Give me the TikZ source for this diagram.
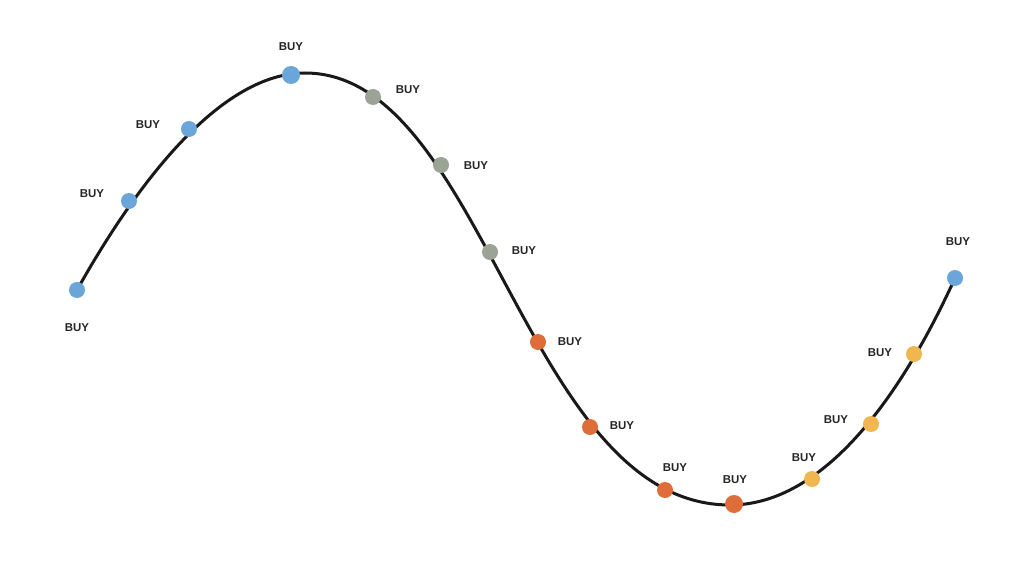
\documentclass[tikz,border=0pt]{standalone}
\usepackage{fontspec}
\setmainfont{Liberation Sans}
\begin{document}
\begin{tikzpicture}[x=1bp,y=-1bp,
  dot/.style={circle,inner sep=0pt,minimum size=16bp},
  bigdot/.style={dot,minimum size=18bp},
  lbl/.style={font=\fontsize{11.5}{13}\selectfont\bfseries,text=black!85,inner sep=0pt},
  curve/.style={line width=3bp,black!90,line cap=round}]
\definecolor{cblue}{HTML}{6AA6DA}
\definecolor{cgray}{HTML}{9BA397}
\definecolor{corange}{HTML}{DF6D3A}
\definecolor{cyellow}{HTML}{F0B64F}
\useasboundingbox (0,0) rectangle (1024,572);
\fill[white] (0,0) rectangle (1024,572);
\coordinate (s) at (77,290);
\coordinate (top) at (305,73);
\coordinate (bot) at (730,505);
\coordinate (e) at (955,278);
\draw[curve] (s) .. controls (150,160) and (230,73) .. (top)
  .. controls (485,73) and (525,505) .. (bot)
  .. controls (840,505) and (920,355) .. (e);
\node[dot,fill=cblue] (d1) at (77,290) {};
\node[dot,fill=cblue] (d2) at (129,201) {};
\node[dot,fill=cblue] (d3) at (189,129) {};
\node[bigdot,fill=cblue] (d4) at (291,75) {};
\node[dot,fill=cgray] (d5) at (373,97) {};
\node[dot,fill=cgray] (d6) at (441,165) {};
\node[dot,fill=cgray] (d7) at (490,252) {};
\node[dot,fill=corange] (d8) at (538,342) {};
\node[dot,fill=corange] (d9) at (590,427) {};
\node[dot,fill=corange] (d10) at (665,490) {};
\node[bigdot,fill=corange] (d11) at (734,504) {};
\node[dot,fill=cyellow] (d12) at (812,479) {};
\node[dot,fill=cyellow] (d13) at (871,424) {};
\node[dot,fill=cyellow] (d14) at (914,354) {};
\node[dot,fill=cblue] (d15) at (955,278) {};
\node[lbl] (l1) at (77,328) {BUY};
\node[lbl] (l2) at (92,194) {BUY};
\node[lbl] (l3) at (148,125) {BUY};
\node[lbl] (l4) at (291,47) {BUY};
\node[lbl] (l5) at (408,90) {BUY};
\node[lbl] (l6) at (476,166) {BUY};
\node[lbl] (l7) at (524,251) {BUY};
\node[lbl] (l8) at (570,342) {BUY};
\node[lbl] (l9) at (622,426) {BUY};
\node[lbl] (l10) at (675,468) {BUY};
\node[lbl] (l11) at (735,480) {BUY};
\node[lbl] (l12) at (804,458) {BUY};
\node[lbl] (l13) at (836,420) {BUY};
\node[lbl] (l14) at (880,353) {BUY};
\node[lbl] (l15) at (958,242) {BUY};
\end{tikzpicture}
\end{document}
